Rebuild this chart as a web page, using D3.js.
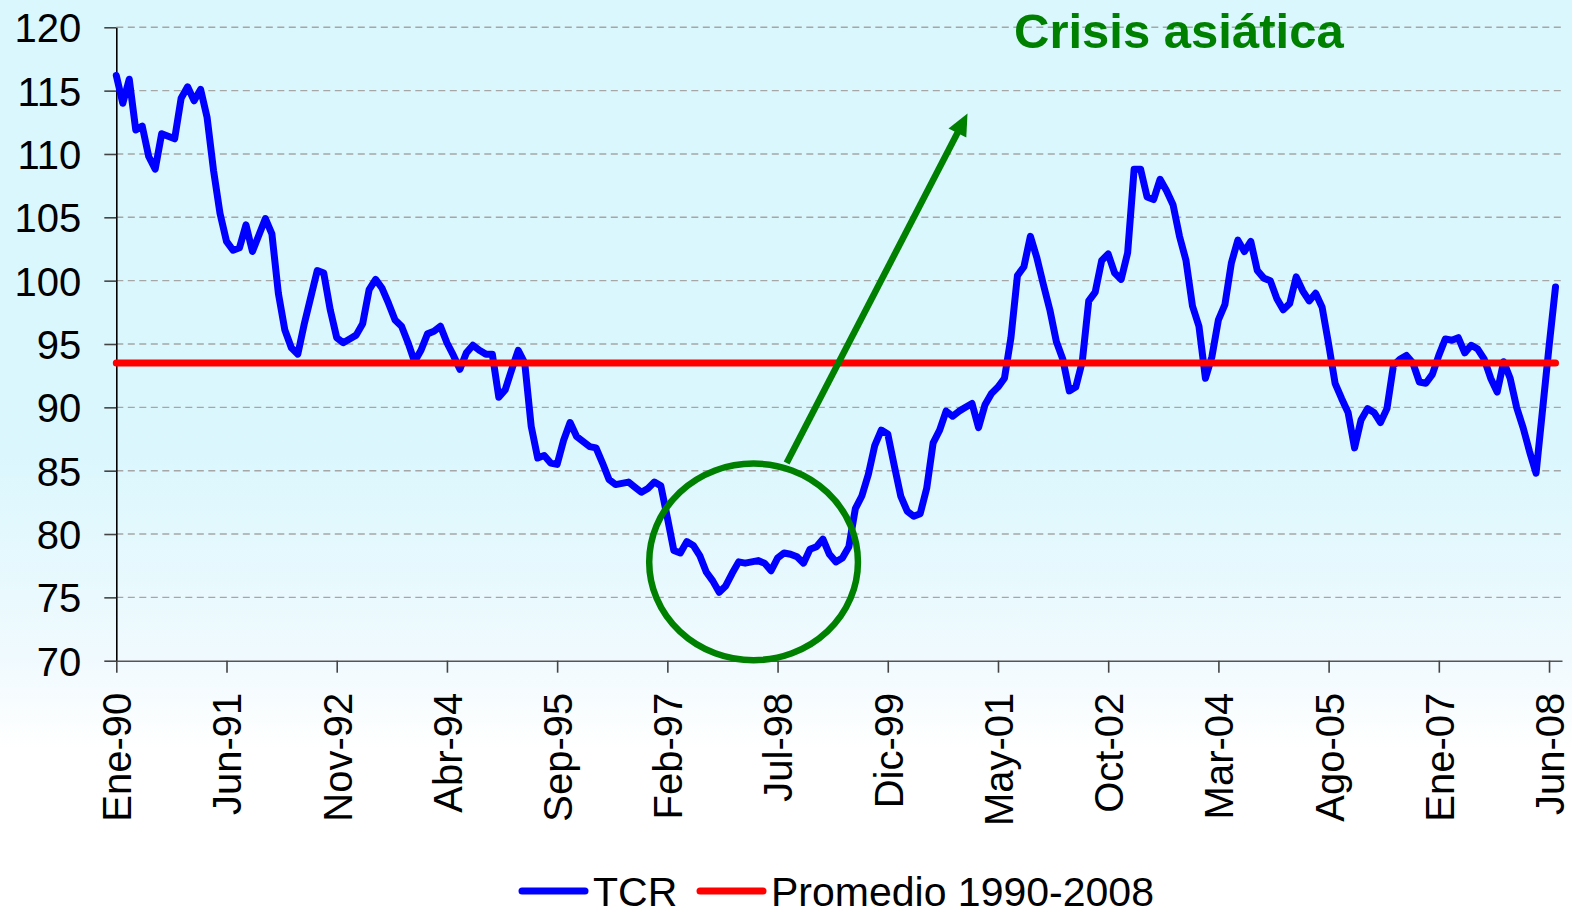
<!DOCTYPE html>
<html>
<head>
<meta charset="utf-8">
<title>TCR 1990-2008</title>
<script src="https://cdn.jsdelivr.net/npm/d3@7"></script>
<style>
    html, body { margin: 0; padding: 0; background: #ffffff; }
    svg { display: block; font-family: "Liberation Sans", Arial, sans-serif; }
</style>
</head>
<body>
<div id="chart"></div>
<script>
// Data (monthly index, Ene-90 .. Jul-08)
const monthNames = ['Ene', 'Feb', 'Mar', 'Abr', 'May', 'Jun', 'Jul', 'Ago', 'Sep', 'Oct', 'Nov', 'Dic'];
const startYear = 1990;

const tcr = [
    116.2, 114.0, 115.9, 111.9, 112.2, 109.8, 108.8, 111.6, 111.4, 111.2,
    114.4, 115.3, 114.2, 115.1, 112.9, 108.7, 105.3, 103.1, 102.4, 102.6,
    104.4, 102.3, 103.6, 104.9, 103.7, 99.0, 96.1, 94.7, 94.2, 96.6,
    98.7, 100.8, 100.6, 97.7, 95.5, 95.1, 95.4, 95.7, 96.6, 99.3,
    100.1, 99.4, 98.2, 96.9, 96.4, 95.1, 93.6, 94.5, 95.8, 96.0,
    96.4, 95.1, 94.1, 93.0, 94.3, 94.9, 94.5, 94.2, 94.2, 90.8,
    91.4, 93.0, 94.5, 93.5, 88.5, 86.0, 86.2, 85.6, 85.5, 87.4,
    88.8, 87.7, 87.3, 86.9, 86.8, 85.6, 84.3, 83.9, 84.0, 84.1,
    83.7, 83.3, 83.6, 84.1, 83.8, 81.3, 78.7, 78.5, 79.4, 79.1,
    78.3, 77.0, 76.3, 75.4, 75.9, 76.9, 77.8, 77.7, 77.8, 77.9,
    77.7, 77.1, 78.1, 78.5, 78.4, 78.2, 77.7, 78.8, 79.0, 79.6,
    78.4, 77.8, 78.1, 79.0, 82.0, 83.0, 84.7, 87.0, 88.2, 87.9,
    85.4, 83.0, 81.8, 81.4, 81.6, 83.6, 87.2, 88.2, 89.7, 89.3,
    89.7, 90.0, 90.3, 88.4, 90.2, 91.1, 91.6, 92.3, 95.5, 100.4,
    101.1, 103.5, 101.8, 99.7, 97.7, 95.2, 93.8, 91.3, 91.6, 93.6,
    98.4, 99.1, 101.6, 102.1, 100.6, 100.1, 102.2, 108.8, 108.8, 106.6,
    106.4, 108.0, 107.1, 106.0, 103.5, 101.6, 98.0, 96.4, 92.3, 94.0,
    96.9, 98.1, 101.4, 103.2, 102.3, 103.1, 100.8, 100.2, 100.0, 98.6,
    97.7, 98.2, 100.3, 99.2, 98.4, 99.0, 97.9, 95.0, 91.9, 90.7,
    89.6, 86.8, 89.0, 89.9, 89.6, 88.8, 89.9, 93.3, 93.8, 94.1,
    93.5, 92.0, 91.9, 92.6, 94.1, 95.4, 95.3, 95.5, 94.3, 94.9,
    94.6, 93.8, 92.3, 91.2, 93.6, 92.3, 90.0, 88.4, 86.5, 84.8,
    89.8, 94.8, 99.5
];
const promedio = 93.5;            // Promedio 1990-2008
const yTicks = [70, 75, 80, 85, 90, 95, 100, 105, 110, 115, 120];
const labelStep = 17;             // one label every 17 months
const seriesNames = ['TCR', 'Promedio 1990-2008'];
const titleText = 'Crisis asiática';

// Category labels (Ene-90, Feb-90, ...)
const categories = tcr.map((d, i) =>
    monthNames[i % 12] + '-' + String(startYear + Math.floor(i / 12)).slice(-2));
const promedioSerie = tcr.map(() => promedio);

// Configuration
const config = {
    width: 1572,
    height: 914,
    plot: { left: 116.3, right: 1562, top: 27.3, bottom: 660.7 },
    colors: {
        tcr: '#0000ff',
        promedio: '#ff0000',
        annot: '#008000',
        grid: '#a6a6a6',
        text: '#000000'
    },
    fontSize: 40,
    lineWidth: 7
};

const svg = d3.select('#chart').append('svg')
    .attr('width', config.width)
    .attr('height', config.height);

// Background gradient (light cyan fading to white)
const defs = svg.append('defs');
const grad = defs.append('linearGradient')
    .attr('id', 'bg').attr('x1', 0).attr('y1', 0).attr('x2', 0).attr('y2', 1);
[[0, '#d9f7fd'], [0.5, '#dbf7fd'], [0.72, '#f0fafe'], [0.82, '#ffffff'], [1, '#ffffff']]
    .forEach(([o, c]) => grad.append('stop').attr('offset', o).attr('stop-color', c));

svg.append('rect')
    .attr('width', config.width).attr('height', config.height)
    .attr('fill', 'url(#bg)');

// Scales
const x = d3.scaleLinear()
    .domain([0, tcr.length])
    .range([config.plot.left, config.plot.right]);

const y = d3.scaleLinear()
    .domain([70, 120])
    .range([config.plot.bottom, config.plot.top]);

// Gridlines
svg.append('g')
    .selectAll('line')
    .data(yTicks.slice(1))
    .enter()
    .append('line')
    .attr('x1', config.plot.left)
    .attr('x2', config.plot.right)
    .attr('y1', d => y(d))
    .attr('y2', d => y(d))
    .attr('stroke', config.colors.grid)
    .attr('stroke-width', 1.4)
    .attr('stroke-dasharray', '7,4.5');

// Y axis
const yAxis = svg.append('g')
    .attr('transform', `translate(${config.plot.left},0)`)
    .call(d3.axisLeft(y).tickValues(yTicks).tickSize(12).tickPadding(23).tickSizeOuter(0));
yAxis.select('.domain').attr('stroke', '#000').attr('stroke-width', 1.6);
yAxis.selectAll('.tick line').attr('stroke', '#444').attr('stroke-width', 1.6);
yAxis.selectAll('.tick text')
    .attr('font-size', config.fontSize)
    .attr('font-family', '"Liberation Sans", Arial, sans-serif')
    .attr('fill', config.colors.text)
    .attr('dy', '0.36em');

// X axis
const xAxis = svg.append('g')
    .attr('transform', `translate(0,${config.plot.bottom})`)
    .call(d3.axisBottom(x)
        .tickValues(d3.range(0, tcr.length, labelStep))
        .tickFormat(i => categories[i])
        .tickSize(12)
        .tickSizeOuter(0));
xAxis.select('.domain').attr('stroke', '#555').attr('stroke-width', 1.6);
xAxis.selectAll('.tick line').attr('stroke', '#444').attr('stroke-width', 1.6);
xAxis.selectAll('.tick text')
    .attr('font-size', config.fontSize)
    .attr('font-family', '"Liberation Sans", Arial, sans-serif')
    .attr('fill', config.colors.text)
    .attr('transform', 'rotate(-90)')
    .attr('text-anchor', 'end')
    .attr('x', -32)
    .attr('y', 0)
    .attr('dy', '0.36em');

// Lines
const line = d3.line()
    .x((d, i) => x(i))
    .y(d => y(d));

svg.append('path')
    .datum(tcr)
    .attr('d', line)
    .attr('fill', 'none')
    .attr('stroke', config.colors.tcr)
    .attr('stroke-width', config.lineWidth)
    .attr('stroke-linejoin', 'round')
    .attr('stroke-linecap', 'round');

svg.append('path')
    .datum(promedioSerie)
    .attr('d', line)
    .attr('fill', 'none')
    .attr('stroke', config.colors.promedio)
    .attr('stroke-width', config.lineWidth)
    .attr('stroke-linecap', 'round');

// Annotation: circle round the 1998-99 trough, arrow, title
const annot = svg.append('g');

annot.append('ellipse')
    .attr('cx', x(98.3))
    .attr('cy', y(77.8))
    .attr('rx', x(16.1) - x(0))
    .attr('ry', y(0) - y(7.76))
    .attr('fill', 'none')
    .attr('stroke', config.colors.annot)
    .attr('stroke-width', 6.5);

const arrowFrom = [x(103.4), y(85.6)];
const arrowTo = [x(131.3), y(113.2)];
const dx = arrowTo[0] - arrowFrom[0];
const dy = arrowTo[1] - arrowFrom[1];
const len = Math.hypot(dx, dy);
const ux = dx / len, uy = dy / len;
const headLen = 22, headHalf = 10;
const baseX = arrowTo[0] - ux * headLen, baseY = arrowTo[1] - uy * headLen;

annot.append('line')
    .attr('x1', arrowFrom[0]).attr('y1', arrowFrom[1])
    .attr('x2', baseX + ux * 2).attr('y2', baseY + uy * 2)
    .attr('stroke', config.colors.annot)
    .attr('stroke-width', 6.5);

annot.append('path')
    .attr('d', `M${arrowTo[0]},${arrowTo[1]}` +
        `L${baseX - uy * headHalf},${baseY + ux * headHalf}` +
        `L${baseX + uy * headHalf},${baseY - ux * headHalf}Z`)
    .attr('fill', config.colors.annot);

annot.append('text')
    .attr('x', x(163.9))
    .attr('y', y(118.37))
    .attr('text-anchor', 'middle')
    .attr('font-size', 49)
    .attr('font-weight', 'bold')
    .attr('fill', config.colors.annot)
    .text(titleText);

// Legend
const legend = svg.append('g').attr('transform', 'translate(0, 891)');
const legendItems = [
    { name: seriesNames[0], color: config.colors.tcr, x: 522 },
    { name: seriesNames[1], color: config.colors.promedio, x: 700 }
];
const item = legend.selectAll('g')
    .data(legendItems)
    .enter()
    .append('g')
    .attr('transform', d => `translate(${d.x},0)`);

item.append('line')
    .attr('x1', 0).attr('x2', 63)
    .attr('y1', 0).attr('y2', 0)
    .attr('stroke', d => d.color)
    .attr('stroke-width', config.lineWidth)
    .attr('stroke-linecap', 'round');

item.append('text')
    .attr('x', 71)
    .attr('y', 14.5)
    .attr('font-size', 41)
    .attr('fill', config.colors.text)
    .text(d => d.name);
</script>
</body>
</html>
